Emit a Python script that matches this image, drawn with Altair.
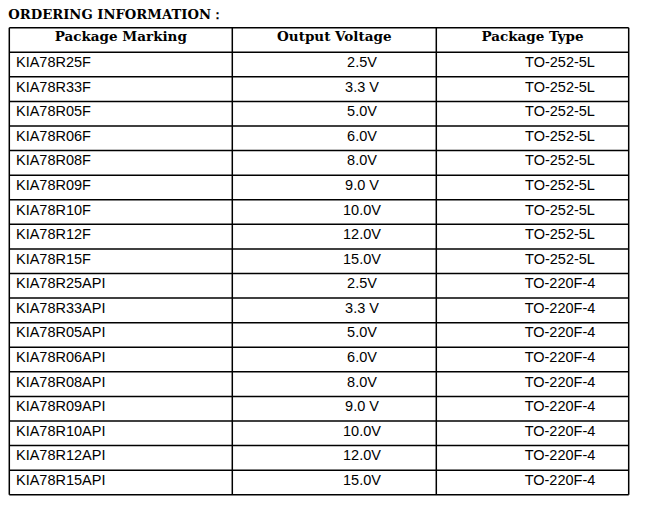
import altair as alt
import pandas as pd

# ---------------- data ----------------
title_text = "ORDERING INFORMATION："
headers = ["Package Marking", "Output Voltage", "Package Type"]
markings = [
    "KIA78R25F", "KIA78R33F", "KIA78R05F", "KIA78R06F", "KIA78R08F",
    "KIA78R09F", "KIA78R10F", "KIA78R12F", "KIA78R15F",
    "KIA78R25API", "KIA78R33API", "KIA78R05API", "KIA78R06API", "KIA78R08API",
    "KIA78R09API", "KIA78R10API", "KIA78R12API", "KIA78R15API",
]
voltages = [
    "2.5V", "3.3 V", "5.0V", "6.0V", "8.0V", "9.0 V", "10.0V", "12.0V", "15.0V",
    "2.5V", "3.3 V", "5.0V", "6.0V", "8.0V", "9.0 V", "10.0V", "12.0V", "15.0V",
]
package_types = ["TO-252-5L"] * 9 + ["TO-220F-4"] * 9

# ---------------- layout ----------------
W, H = 655, 506
PAGE = 8
TOP = 27.7          # page y of table top
ROW_H = 24.58       # row height in px
col_edges = [9.3, 232.3, 436.3, 628.7]
n_rows = len(markings) + 1  # header + data rows

xs = alt.Scale(domain=[PAGE, PAGE + W], nice=False, zero=False)
ys = alt.Scale(domain=[(PAGE - TOP) / ROW_H, (PAGE + H - TOP) / ROW_H],
               nice=False, zero=False, reverse=True)

# grid lines
hlines = pd.DataFrame({"y": list(range(n_rows + 1)),
                       "x0": col_edges[0], "x1": col_edges[-1]})
vlines = pd.DataFrame({"x": col_edges, "y0": 0, "y1": n_rows})

h_rule = alt.Chart(hlines).mark_rule(color="black", strokeWidth=1.5).encode(
    x=alt.X("x0:Q", scale=xs, axis=None), x2="x1:Q",
    y=alt.Y("y:Q", scale=ys, axis=None))
v_rule = alt.Chart(vlines).mark_rule(color="black", strokeWidth=1.5).encode(
    x=alt.X("x:Q", scale=xs, axis=None),
    y=alt.Y("y0:Q", scale=ys, axis=None), y2="y1:Q")

# header
hdr = pd.DataFrame({
    "text": headers,
    "x": [(col_edges[i] + col_edges[i + 1]) / 2 for i in range(3)],
    "y": 0.53,
})
hdr_text = alt.Chart(hdr).mark_text(
    font="DejaVu Serif", fontWeight="bold", fontSize=13.5,
    align="center", baseline="alphabetic", color="#000"
).encode(x=alt.X("x:Q", scale=xs, axis=None),
         y=alt.Y("y:Q", scale=ys, axis=None), text="text:N")

rows = pd.DataFrame({
    "marking": markings,
    "voltage": voltages,
    "ptype": package_types,
    "y": [i + 1 + 0.6 for i in range(len(markings))],
})

def body(field, x, align):
    return alt.Chart(rows).mark_text(
        font="Liberation Sans", fontSize=14.5, align=align,
        baseline="alphabetic", color="#000"
    ).encode(x=alt.X("xx:Q", scale=xs, axis=None),
             y=alt.Y("y:Q", scale=ys, axis=None),
             text=f"{field}:N").transform_calculate(xx=str(x))

c1 = body("marking", 16, "left")
c2 = body("voltage", 362, "center")
c3 = body("ptype", 560, "center")

ttl = pd.DataFrame({"text": [title_text], "x": [8.3], "y": [(18.8 - TOP) / ROW_H]})
title_mark = alt.Chart(ttl).mark_text(
    font="DejaVu Serif", fontWeight="bold", fontSize=13.2,
    align="left", baseline="alphabetic", color="#000"
).encode(x=alt.X("x:Q", scale=xs, axis=None),
         y=alt.Y("y:Q", scale=ys, axis=None), text="text:N")

chart = alt.layer(h_rule, v_rule, hdr_text, c1, c2, c3, title_mark).properties(
    width=W, height=H, padding=0, autosize=alt.AutoSizeParams(type="none"),
    background="white"
).configure_view(stroke=None)

chart.save("out.html", embed_options={"renderer": "svg", "actions": False})
